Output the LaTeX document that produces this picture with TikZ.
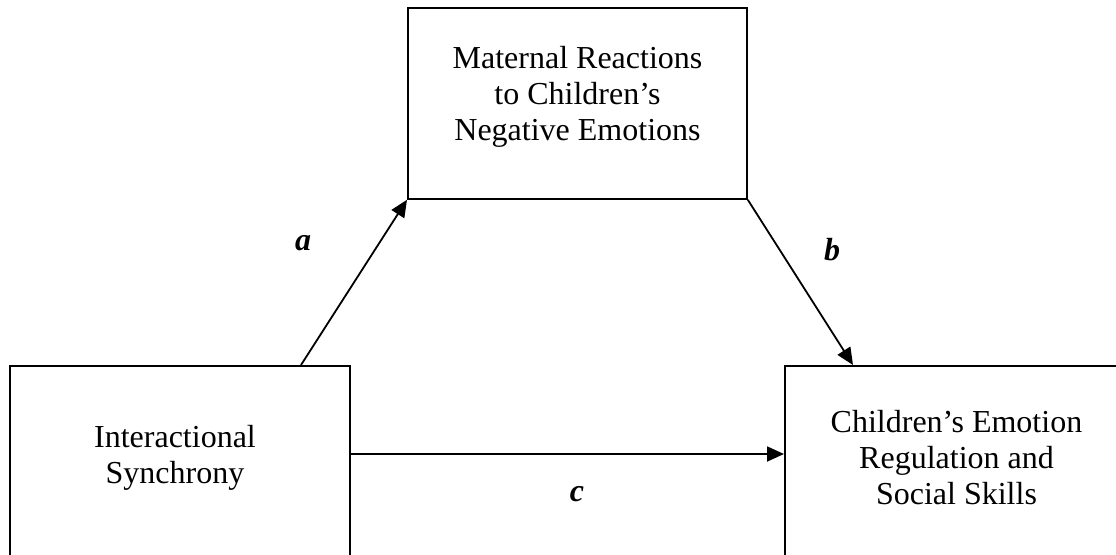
\documentclass[tikz,border=0pt]{standalone}
\usepackage{fontspec}
\setmainfont{Liberation Serif}
\usetikzlibrary{arrows.meta}
\begin{document}
\begin{tikzpicture}[x=1pt,y=-1pt,
  boxnode/.style={draw,line width=1.8pt,inner sep=0pt,anchor=north west},
  txt/.style={align=center,inner sep=0pt,font=\fontsize{32}{36}\selectfont},
  lbl/.style={inner sep=0pt,font=\fontsize{32}{36}\selectfont\bfseries\itshape},
  arr/.style={line width=1.8pt,-{Triangle[length=17pt,width=15pt]}}]
\useasboundingbox (0,0) rectangle (1116,554);
\clip (0,0) rectangle (1116,554);
\node[boxnode,minimum width=339pt,minimum height=191pt] (mr) at (407,7) {};
\node[boxnode,minimum width=340pt,minimum height=200pt] (is) at (9,365) {};
\node[boxnode,minimum width=350pt,minimum height=200pt] (cr) at (784,365) {};
\node[txt] (mrt) at (577.5,96.5) {Maternal Reactions\\to Children’s\\Negative Emotions};
\node[txt] (ist) at (175,457.5) {Interactional\\Synchrony};
\node[txt] (crt) at (956.5,458) {Children’s Emotion\\Regulation and\\Social Skills};
\coordinate (astart) at ([xshift=292pt]is.north west);
\coordinate (bend) at ([xshift=69pt]cr.north west);
\coordinate (cstart) at ([yshift=-89pt]is.north east);
\coordinate (cend) at ([yshift=-89pt]cr.north west);
\draw[arr] (astart) -- (mr.south west);
\draw[arr] (mr.south east) -- (bend);
\draw[arr] (cstart) -- (cend);
\node[lbl] (la) at (303,243) {a};
\node[lbl] (lb) at (832,250) {b};
\node[lbl] (lc) at (577,494) {c};
\end{tikzpicture}
\end{document}
